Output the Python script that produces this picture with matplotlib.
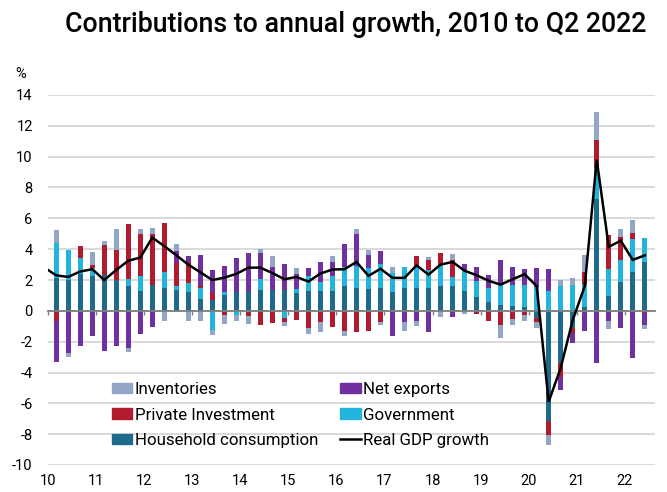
import numpy as np
import matplotlib
matplotlib.use("Agg")
import matplotlib.pyplot as plt
from matplotlib.patches import Patch
from matplotlib.lines import Line2D

plt.rcParams['font.family'] = ['Roboto', 'DejaVu Sans']
plt.rcParams['axes.unicode_minus'] = False

# ---------------- data ----------------
quarters = [f"{y}Q{q}" for y in range(2010, 2023) for q in range(1, 5)][:50]
year_labels = ["10", "11", "12", "13", "14", "15", "16", "17", "18", "19", "20", "21", "22"]

household = [2.10, 1.99, 2.36, 2.25, 2.30, 2.00, 1.63, 1.30, 1.68, 1.45,
             1.32, 1.21, 0.80, 0.73, 1.04, 1.21, 1.28, 1.38, 1.35, 1.38,
             1.18, 1.30, 1.30, 1.30, 1.60, 1.45, 1.40, 1.45, 1.20, 1.45,
             1.45, 1.50, 1.58, 1.58, 1.31, 0.88, 0.58, 0.35, 0.30, 0.28,
             -0.45, -7.17, -3.39, -1.12, 0.28, 7.25, 0.97, 1.90, 2.55, 3.14]
government = [2.28, 1.95, 1.08, 0.56, 0.05, 0.00, 0.46, 0.97, 0.00, 1.06,
              0.32, 0.60, 0.65, -1.27, 0.17, -0.30, -0.05, 0.69, 0.00, -0.44,
              0.24, 0.95, 0.57, 0.97, 1.22, 1.45, 1.38, 1.62, 1.28, 1.40,
              1.38, 1.12, 1.37, 0.62, 1.37, 1.03, 0.88, 1.33, 1.38, 1.40,
              1.55, 1.30, 1.58, 1.68, 1.40, 2.00, 1.73, 1.38, 2.13, 1.57]
private_inv = [-0.64, 0.00, 0.74, 0.15, 1.94, 1.96, 3.52, 2.71, 3.30, 3.20,
               1.47, 1.36, 0.15, 0.43, -0.30, 0.00, -0.30, -0.91, -0.80, -0.30,
               -0.58, -1.12, -0.74, -1.07, -1.30, -1.36, -1.28, -0.71, 0.00, 0.00,
               0.71, 0.68, 0.80, 1.10, 0.00, -0.21, -0.69, -0.91, -0.54, -0.25,
               -0.30, -0.86, -0.93, -0.32, 0.86, 1.85, 2.22, 1.49, 0.35, -0.15]
net_exports = [-2.65, -2.72, -2.27, -1.62, -2.59, -2.29, -2.42, -1.48, -1.06, 0.00,
               0.80, 0.37, 2.05, 1.47, 1.73, 2.22, 2.45, 1.71, 1.52, 1.65,
               0.98, 0.52, 1.27, 0.87, 1.51, 2.10, 0.84, 0.84, -1.60, -0.71,
               -0.65, -1.38, 0.00, -0.40, 0.36, 0.93, 0.86, 1.64, 1.15, 1.05,
               1.25, 1.43, -0.84, -0.65, -1.34, -3.39, -0.63, -1.12, -3.07, -0.76]
inventories = [0.86, -0.29, 0.00, 0.86, 0.26, 1.36, -0.28, 0.33, 0.42, -0.63,
               0.43, -0.67, -0.67, -0.30, -0.58, -0.37, -0.50, 0.22, 0.67, -0.23,
               0.37, -0.36, -0.65, 0.40, -0.32, 0.28, 0.32, -0.20, 0.38, -0.60,
               -0.32, 0.17, -0.40, 0.40, -0.20, 0.00, 0.00, -0.86, -0.37, -0.43,
               -0.35, -0.65, 0.43, 0.43, 1.08, 1.77, -0.56, 0.53, 0.86, -0.28]

# GDP line starts one quarter earlier (2009Q4), clipped at the axis edge
gdp_quarters = ["2009Q4"] + quarters
gdp_growth = [2.82,
              2.30, 2.20, 2.55, 2.70, 2.00, 2.65, 3.25, 3.45, 4.75, 4.20,
              3.60, 3.00, 2.50, 2.00, 2.15, 2.40, 2.80, 2.80, 2.45, 2.05,
              2.20, 1.90, 2.42, 2.68, 2.70, 3.17, 2.27, 2.73, 2.14, 2.14,
              2.95, 2.35, 3.00, 3.17, 2.60, 2.31, 1.95, 1.70, 2.05, 2.38,
              1.60, -5.90, -3.70, -0.60, 1.60, 9.80, 4.15, 4.55, 3.30, 3.60]

series = [
    ("Household consumption", household, "#1F6A8A"),
    ("Government", government, "#22B4DC"),
    ("Private Investment", private_inv, "#B11A2F"),
    ("Net exports", net_exports, "#7030A0"),
    ("Inventories", inventories, "#93A5C8"),
]

# ---------------- figure ----------------
fig = plt.figure(figsize=(6.67, 4.92), dpi=100)
ax = fig.add_axes([48 / 667, 27 / 492, 607 / 667, 370 / 492])

x = np.arange(len(quarters))
pos_bottom = np.zeros(len(quarters))
neg_bottom = np.zeros(len(quarters))
for name, vals, col in series:
    v = np.array(vals)
    b = np.where(v >= 0, pos_bottom, neg_bottom)
    ax.bar(x, v, bottom=b, width=0.42, color=col, zorder=3, linewidth=0)
    pos_bottom += np.where(v >= 0, v, 0)
    neg_bottom += np.where(v < 0, v, 0)

gx = np.arange(-1, len(quarters))
ax.plot(gx, gdp_growth, color="black", lw=1.8, zorder=5, solid_joinstyle="miter")

ax.set_xlim(-0.68, 49.85)
ax.set_ylim(-10, 14)
ax.set_yticks(np.arange(-10, 15, 2))
ax.yaxis.grid(True, color="#D9D9D9", lw=1.4, zorder=0)
ax.set_axisbelow(True)
ax.tick_params(axis="y", length=0, pad=11, labelsize=10.5, labelcolor="black")

for s in ["top", "right", "left"]:
    ax.spines[s].set_visible(False)
ax.spines["bottom"].set_position(("data", 0))
ax.spines["bottom"].set_color("#7F7F7F")
ax.spines["bottom"].set_linewidth(1.3)
ax.spines["bottom"].set_zorder(4)

tick_pos = [4 * k - 0.67 for k in range(len(year_labels))]
ax.set_xticks(tick_pos)
ax.set_xticklabels([])
ax.tick_params(axis="x", length=3, width=1, color="#7F7F7F", direction="out")
for tp, lab in zip(tick_pos, year_labels):
    ax.text(tp, -0.025, lab, transform=ax.get_xaxis_transform(), ha="center",
            va="top", fontsize=10.5)

fig.text(15 / 667, 1 - 74 / 492, "%", ha="left", va="center", fontsize=10.5)
fig.text(356 / 667, 1 - 25 / 492, "Contributions to annual growth, 2010 to Q2 2022",
         ha="center", va="center", fontsize=19.3, fontweight="medium")

cmap = {name: col for name, _, col in series}
handles = [
    Patch(color=cmap["Inventories"], label="Inventories"),
    Patch(color=cmap["Private Investment"], label="Private Investment"),
    Patch(color=cmap["Household consumption"], label="Household consumption"),
    Patch(color=cmap["Net exports"], label="Net exports"),
    Patch(color=cmap["Government"], label="Government"),
    Line2D([0], [0], color="black", lw=1.8, label="Real GDP growth"),
]
fig.legend(handles=handles, ncol=2, loc="upper left",
           bbox_to_anchor=(112 / 667, 1 - 382 / 492), frameon=False,
           fontsize=12.2, handlelength=1.2, handleheight=0.6, handletextpad=0.15,
           columnspacing=1.3, labelspacing=0.62, borderpad=0, borderaxespad=0)

fig.savefig("out.png", dpi=100)
